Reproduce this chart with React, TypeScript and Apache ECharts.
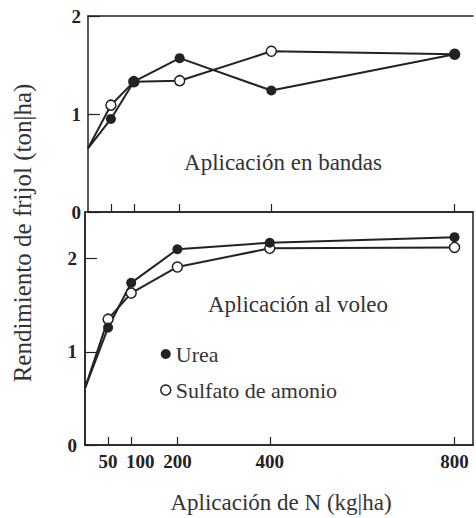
import React, { useEffect, useRef } from "react";
import * as echarts from "echarts";

// N rates (kg/ha) and bean yields (ton/ha)
const nRates = [0, 50, 100, 200, 400, 800];
const tickRates = [50, 100, 200, 400, 800];
const ureaBandas = [0.65, 0.95, 1.33, 1.57, 1.24, 1.61];
const sulfatoBandas = [0.65, 1.09, 1.33, 1.34, 1.64, 1.61];
const ureaVoleo = [0.61, 1.26, 1.74, 2.1, 2.17, 2.23];
const sulfatoVoleo = [0.61, 1.35, 1.63, 1.91, 2.11, 2.12];
const yTicksTop = [0, 1, 2];
const yTicksBottom = [0, 1, 2];

const INK = "#222";
const SERIF = "Liberation Serif";

const pairs = (ys: number[]) =>
  nRates.map((x, i) =>
    i === 0 ? { value: [x, ys[i]], symbol: "none" } : { value: [x, ys[i]] }
  );

const filled = { color: INK };
const open = { color: "#fff", borderColor: INK, borderWidth: 1.5 };

const caption = (text: string, x: number, y: number, rotation = 0, fontSize = 23) => ({
  type: "text",
  x,
  y,
  rotation,
  style: {
    text,
    fontFamily: SERIF,
    fontSize,
    fill: "#333",
    align: "center",
    verticalAlign: "middle",
  },
});

export default function App() {
  const ref = useRef<HTMLDivElement>(null);

  useEffect(() => {
    if (!ref.current) return;
    const chart = echarts.init(ref.current, null, { renderer: "svg" });

    const tickLabel = {
      fontFamily: SERIF,
      fontWeight: "bold" as const,
      fontSize: 19,
      color: INK,
    };

    const baseX = {
      type: "value" as const,
      min: 0,
      max: 840,
      splitLine: { show: false },
      axisLine: { show: true, lineStyle: { color: INK, width: 1.5 } },
    };

    const option = {
      animation: false,
      backgroundColor: "#fff",
      textStyle: { fontFamily: SERIF },
      grid: [
        { left: 88, top: 16, right: 3, height: 196 },
        { left: 85, top: 212, right: 3, bottom: 73, show: true, borderColor: INK, borderWidth: 1.5 },
      ],
      xAxis: [
        {
          ...baseX,
          gridIndex: 0,
          position: "bottom",
          axisTick: {
            show: true,
            inside: true,
            length: 8,
            customValues: tickRates,
            lineStyle: { color: INK, width: 1.2 },
          },
          axisLabel: { show: false },
        },
        {
          ...baseX,
          gridIndex: 0,
          position: "top",
          axisTick: { show: false },
          axisLabel: { show: false },
        },
        {
          ...baseX,
          gridIndex: 1,
          position: "bottom",
          axisTick: {
            show: true,
            inside: true,
            length: 8,
            customValues: tickRates,
            lineStyle: { color: INK, width: 1.2 },
          },
          axisLabel: {
            show: true,
            customValues: tickRates,
            margin: 7,
            formatter: (v: number) => (v === 100 ? `{s|${v}}` : `{b|${v}}`),
            rich: {
              b: { ...tickLabel },
              s: { ...tickLabel, padding: [0, 0, 0, 18] },
            },
          },
        },
      ],
      yAxis: [
        {
          type: "value",
          gridIndex: 0,
          min: 0,
          max: 2,
          interval: 1,
          splitLine: { show: false },
          axisLine: { show: true, lineStyle: { color: INK, width: 1.5 } },
          axisTick: {
            show: true,
            inside: true,
            length: 12,
            customValues: yTicksTop,
            lineStyle: { color: INK, width: 1.2 },
          },
          axisLabel: { ...tickLabel, margin: 7, customValues: yTicksTop },
        },
        {
          type: "value",
          gridIndex: 1,
          min: 0,
          max: 2.5,
          interval: 1,
          splitLine: { show: false },
          axisLine: { show: true, lineStyle: { color: INK, width: 1.5 } },
          axisTick: {
            show: true,
            inside: true,
            length: 12,
            customValues: yTicksBottom,
            lineStyle: { color: INK, width: 1.2 },
          },
          axisLabel: { ...tickLabel, margin: 8, customValues: yTicksBottom },
        },
      ],
      legend: {
        left: 155,
        top: 338,
        orient: "vertical",
        itemWidth: 10,
        itemHeight: 10,
        itemGap: 14,
        textStyle: { fontFamily: SERIF, fontSize: 22, color: "#333" },
        data: [
          { name: "Urea", icon: "circle", itemStyle: filled },
          { name: "Sulfato de amonio", icon: "circle", itemStyle: open },
        ],
        selectedMode: false,
      },
      graphic: [
        caption("Aplicación en bandas", 283, 162),
        caption("Aplicación al voleo", 298, 304),
        caption("Aplicación de N (kg|ha)", 281, 502),
        caption("Rendimiento de frijol (ton|ha)", 22, 233, Math.PI / 2, 25),
      ],
      series: [
        {
          name: "Sulfato de amonio",
          type: "line",
          xAxisIndex: 0,
          yAxisIndex: 0,
          data: pairs(sulfatoBandas),
          symbol: "circle",
          symbolSize: 10,
          itemStyle: open,
          lineStyle: { color: INK, width: 2 },
        },
        {
          name: "Urea",
          type: "line",
          xAxisIndex: 0,
          yAxisIndex: 0,
          data: pairs(ureaBandas),
          symbol: "circle",
          symbolSize: 10,
          itemStyle: filled,
          lineStyle: { color: INK, width: 2 },
        },
        {
          name: "Sulfato de amonio",
          type: "line",
          xAxisIndex: 2,
          yAxisIndex: 1,
          data: pairs(sulfatoVoleo),
          symbol: "circle",
          symbolSize: 10,
          itemStyle: open,
          lineStyle: { color: INK, width: 2 },
        },
        {
          name: "Urea",
          type: "line",
          xAxisIndex: 2,
          yAxisIndex: 1,
          data: pairs(ureaVoleo),
          symbol: "circle",
          symbolSize: 10,
          itemStyle: filled,
          lineStyle: { color: INK, width: 2 },
        },
      ],
    };

    chart.setOption(option as any);
    return () => chart.dispose();
  }, []);

  return (
    <div
      ref={ref}
      style={{ position: "fixed", left: 0, top: 0, width: 476, height: 518 }}
    />
  );
}
